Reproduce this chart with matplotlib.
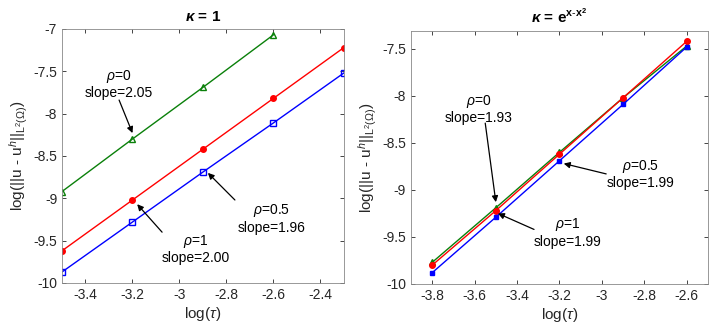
import numpy as np
import matplotlib.pyplot as plt

plt.rcParams['font.family'] = ['Liberation Sans', 'DejaVu Sans']
plt.rcParams['mathtext.fontset'] = 'custom'
plt.rcParams['mathtext.rm'] = 'Liberation Sans'
plt.rcParams['mathtext.it'] = 'Liberation Sans:italic'
plt.rcParams['mathtext.bf'] = 'Liberation Sans:bold'
plt.rcParams['mathtext.bfit'] = 'Liberation Sans:bold:italic'

# left panel: kappa = 1
tau_left = [-3.5, -3.2, -2.9, -2.6, -2.3]
err_rho0_left = [-8.92, -8.30, -7.69, -7.07]
err_rho1_left = [-9.62, -9.02, -8.42, -7.82, -7.22]
err_rho05_left = [-9.87, -9.28, -8.69, -8.11, -7.52]

# right panel: kappa = exp(x - x^2)
tau_right = [-3.8, -3.5, -3.2, -2.9, -2.6]
err_rho0_right = [-9.77, -9.19, -8.60, -8.02, -7.47]
err_rho1_right = [-9.80, -9.22, -8.62, -8.02, -7.42]
err_rho05_right = [-9.88, -9.29, -8.69, -8.09, -7.48]

GREEN = '#0a800a'
RED = '#ff0000'
BLUE = '#0000ff'
TXT = '#262626'
ylab = r'log(||u - u$^{h}$||$_{\mathregular{L}^{2}(\Omega)}$)'

fig = plt.figure(figsize=(7.21, 3.27), dpi=100)
ax1 = fig.add_axes([0.086, 0.1346, 0.391, 0.777])
ax2 = fig.add_axes([0.570, 0.1315, 0.412, 0.774])

lw = 1.0
ax1.plot(tau_left[:4], err_rho0_left, '-^', color=GREEN, lw=lw, ms=5, mfc='none', mew=1.0)
ax1.plot(tau_left, err_rho1_left, '-o', color=RED, lw=lw, ms=4, mfc=RED)
ax1.plot(tau_left, err_rho05_left, '-s', color=BLUE, lw=lw, ms=4, mfc='none', mew=1.0)

ax2.plot(tau_right, err_rho0_right, '-^', color=GREEN, lw=lw, ms=5, mfc=GREEN)
ax2.plot(tau_right, err_rho1_right, '-o', color=RED, lw=lw, ms=4, mfc=RED)
ax2.plot(tau_right, err_rho05_right, '-s', color=BLUE, lw=lw, ms=3.5, mfc=BLUE)

arrow = dict(arrowstyle='-|>', color='k', lw=0.9, mutation_scale=9, shrinkA=0, shrinkB=0)
tkw = dict(ha='center', va='center', fontsize=10, linespacing=1.15)

# annotations, left
ax1.text(-3.26, -7.65, '$\\rho$=0\nslope=2.05', **tkw)
ax1.annotate('', xy=(-3.2, -8.23), xytext=(-3.257, -7.84), arrowprops=arrow)
ax1.text(-2.93, -9.60, '$\\rho$=1\nslope=2.00', **tkw)
ax1.annotate('', xy=(-3.18, -9.07), xytext=(-3.074, -9.40), arrowprops=arrow)
ax1.text(-2.606, -9.24, '$\\rho$=0.5\nslope=1.96', **tkw)
ax1.annotate('', xy=(-2.879, -8.70), xytext=(-2.764, -9.02), arrowprops=arrow)

# annotations, right
ax2.text(-3.58, -8.14, '$\\rho$=0\nslope=1.93', **tkw)
ax2.annotate('', xy=(-3.50, -9.13), xytext=(-3.55, -8.29), arrowprops=arrow)
ax2.text(-2.82, -8.83, '$\\rho$=0.5\nslope=1.99', **tkw)
ax2.annotate('', xy=(-3.18, -8.72), xytext=(-2.98, -8.83), arrowprops=arrow)
ax2.text(-3.16, -9.45, '$\\rho$=1\nslope=1.99', **tkw)
ax2.annotate('', xy=(-3.49, -9.25), xytext=(-3.32, -9.42), arrowprops=arrow)

ax1.set_xlim(-3.5, -2.3)
ax1.set_ylim(-10, -7)
ax1.set_xticks(np.arange(-3.4, -2.35, 0.2))
ax1.set_xticklabels(['-3.4', '-3.2', '-3', '-2.8', '-2.6', '-2.4'])
ax1.set_yticks(np.arange(-10, -6.9, 0.5))
ax1.set_yticklabels(['-10', '-9.5', '-9', '-8.5', '-8', '-7.5', '-7'])

ax2.set_xlim(-3.9, -2.5)
ax2.set_ylim(-10, -7.31)
ax2.set_xticks(np.arange(-3.8, -2.55, 0.2))
ax2.set_xticklabels(['-3.8', '-3.6', '-3.4', '-3.2', '-3', '-2.8', '-2.6'])
ax2.set_yticks(np.arange(-10, -7.4, 0.5))
ax2.set_yticklabels(['-10', '-9.5', '-9', '-8.5', '-8', '-7.5'])

ax1.set_title(r'$\mathbfit{\kappa}$ = 1', fontweight='bold', fontsize=11, pad=6)
ax2.set_title(r'$\mathbfit{\kappa}$ = e$^{\mathbf{x\text{-}x^{2}}}$', fontweight='bold', fontsize=11, pad=6)

for ax in (ax1, ax2):
    ax.set_xlabel(r'log($\tau$)', fontsize=11, color=TXT, labelpad=2)
    ax.set_ylabel(ylab, fontsize=11, color=TXT, labelpad=2)
    ax.tick_params(direction='in', top=True, right=True, labelsize=10,
                   colors=TXT, length=3, width=0.6)
    for s in ax.spines.values():
        s.set_color('#888888')
        s.set_linewidth(0.6)

fig.savefig('out.png', dpi=100)
